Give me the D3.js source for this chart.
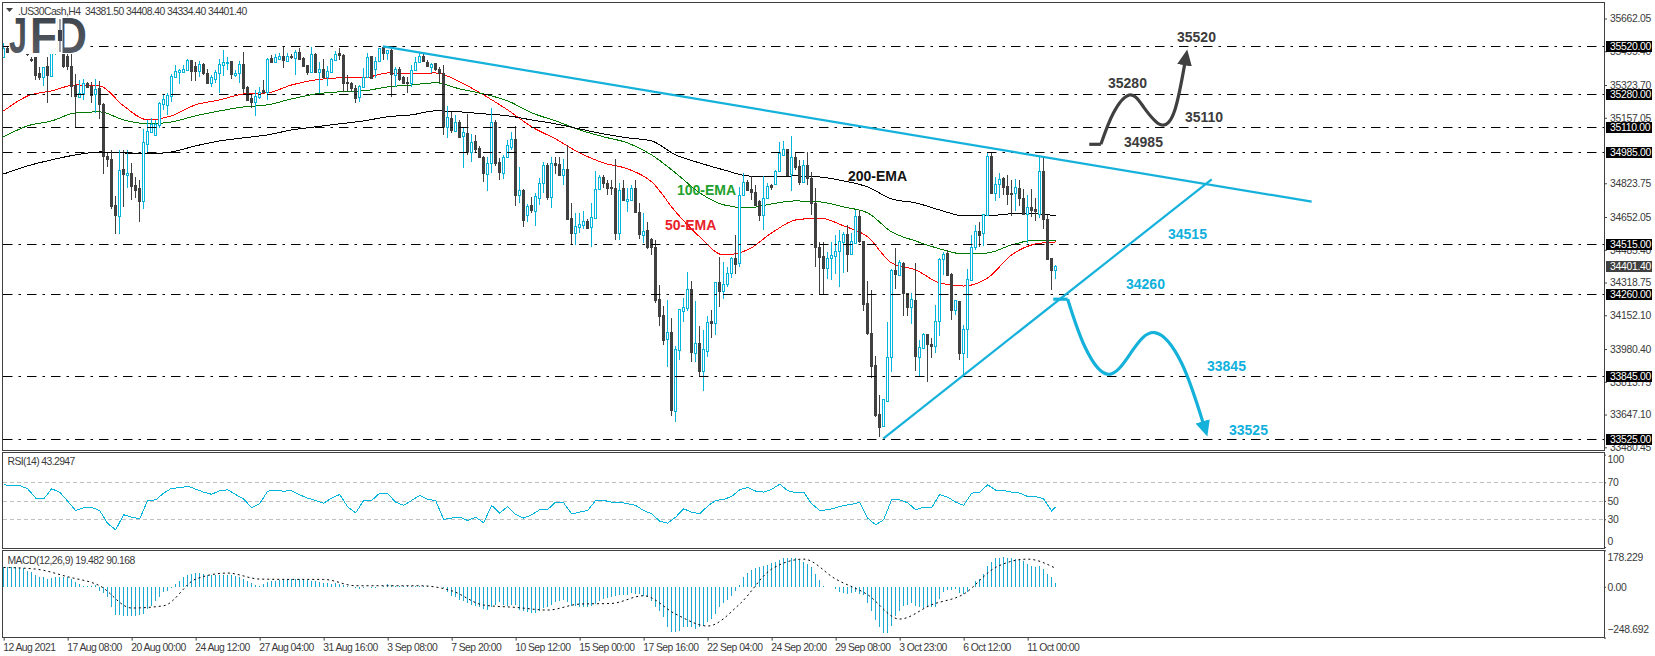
<!DOCTYPE html>
<html>
<head>
<meta charset="utf-8">
<script src="https://d3js.org/d3.v7.min.js"></script>
<style>
  body { margin: 0; background: #fff; }
  svg { display: block; }
  text { font-family: "Liberation Sans", sans-serif; }
  .small { font-size: 10.4px; fill: #3a3a3a; letter-spacing: -0.3px; white-space: pre; }
  .tick text { font-size: 10.4px; fill: #3a3a3a; letter-spacing: -0.3px; font-family: "Liberation Sans", sans-serif; }
  .dates .tick text { letter-spacing: -0.55px; }
  .tick line { stroke: #404040; }
  .note { font-size: 14px; font-weight: bold; dominant-baseline: middle; }
</style>
</head>
<body>
<svg id="chart" width="1655" height="656"></svg>
<script>
// candles, 16 bars a row (same spacing as the date ticks)
const opens = [
  35467,35513,35503,35533,35508,35518,35503,35457,35467,35385,35365,35421,35370,35487,35528,35503,
  35472,35421,35324,35263,35284,35335,35319,35278,35309,35228,34963,34948,34714,34658,34897,34866,
  34876,34815,34800,34734,35024,35085,35070,35121,35228,35223,35268,35365,35391,35391,35401,35452,
  35421,35396,35431,35385,35335,35355,35385,35426,35436,35447,35375,35385,35431,35314,35258,35238,
  35263,35299,35289,35462,35441,35457,35472,35447,35472,35462,35492,35462,35426,35391,35482,35391,
  35406,35365,35391,35452,35487,35477,35340,35335,35309,35263,35314,35365,35472,35406,35447,35518,
  35487,35503,35375,35406,35365,35340,35335,35401,35441,35472,35441,35416,35436,35406,35385,35111,
  35156,35090,35136,35065,35080,34983,35039,35004,34958,34871,34927,35136,34932,34876,34958,35009,
  35049,34765,34790,34663,34714,34683,34749,34826,34917,34754,34927,34922,34866,34897,34647,34571,
  34602,34612,34632,34602,34647,34795,34856,34826,34805,34800,34571,34800,34734,34739,34800,34678,
  34561,34586,34540,34500,34235,34154,34031,34067,33665,33975,34174,34189,34286,33960,34011,33869,
  33970,34123,34113,34322,34276,34311,34367,34444,34418,34765,34831,34795,34780,34734,34663,34749,
  34815,34820,34887,34968,34999,34871,34958,34912,34831,34917,34851,34724,34500,34454,34393,34444,
  34454,34479,34525,34566,34464,34520,34658,34530,34215,34062,33899,33650,33589,33716,33940,34383,
  34357,34418,34266,34194,34230,33940,33986,34057,34006,33996,34123,34439,34469,34362,34179,34225,
  33960,34082,34332,34500,34581,34571,34663,34963,34775,34820,34851,34810,34775,34775,34800,34749,
  34668,34703,34693,34668,34887,34642,34444,34381.5
];
const highs = [
  35538,35523,35548,35553,35538,35533,35513,35467,35467,35416,35416,35467,35497,35533,35543,35533,
  35492,35482,35380,35350,35355,35340,35340,35355,35345,35233,34983,34993,34759,34993,34993,34993,
  34927,34856,34841,35100,35146,35156,35146,35238,35273,35284,35380,35426,35406,35426,35457,35452,
  35441,35447,35436,35406,35375,35401,35457,35503,35467,35447,35401,35447,35492,35319,35273,35299,
  35314,35350,35462,35477,35482,35487,35518,35487,35482,35503,35513,35467,35426,35518,35487,35441,
  35457,35421,35462,35497,35513,35482,35375,35340,35324,35324,35411,35487,35472,35467,35513,35518,
  35503,35508,35416,35416,35370,35365,35426,35467,35487,35487,35452,35436,35436,35416,35426,35217,
  35187,35172,35146,35111,35177,35075,35070,35014,34963,34958,35207,35146,34953,34968,35044,35085,
  35116,34907,34795,34719,34754,34775,34851,34932,34927,34958,34958,34958,34948,35019,34724,34673,
  34673,34683,34642,34724,34887,34866,34866,34841,34841,34948,34826,34841,34800,34815,34841,34724,
  34673,34627,34546,34535,34306,34199,34230,34138,33996,34184,34240,34372,34327,34225,34098,34077,
  34149,34179,34322,34449,34423,34398,34449,34561,34805,34876,34841,34861,34815,34739,34861,34826,
  34820,34892,35034,35039,34999,35065,34983,34943,34943,34983,34882,34800,34525,34525,34474,34525,
  34561,34586,34576,34612,34571,34688,34688,34530,34327,34281,33945,33746,33726,34118,34388,34495,
  34433,34423,34266,34266,34418,34026,34062,34057,34036,34205,34444,34474,34485,34367,34230,34225,
  34103,34388,34561,34612,34627,34668,34983,34983,34856,34876,34856,34866,34841,34846,34841,34795,
  34764,34795,34749,34958,34958,34663,34444,34408.4
];
const lows = [
  35462,35487,35492,35497,35503,35492,35472,35441,35350,35350,35319,35233,35365,35477,35492,35411,
  35401,35263,35111,35258,35248,35309,35233,35182,35151,34871,34907,34693,34566,34566,34703,34800,
  34739,34749,34627,34693,34978,35080,35070,35105,35197,35172,35238,35360,35329,35385,35396,35345,
  35345,35365,35375,35329,35314,35335,35284,35370,35401,35355,35365,35335,35284,35243,35207,35167,
  35253,35278,35248,35436,35436,35452,35411,35441,35457,35375,35452,35421,35375,35385,35391,35284,
  35355,35319,35385,35447,35452,35289,35289,35289,35233,35238,35314,35360,35355,35360,35441,35452,
  35452,35263,35314,35345,35335,35284,35314,35396,35436,35441,35416,35385,35396,35335,35070,35055,
  35080,35090,35055,34902,34968,34932,34983,34953,34831,34785,34876,34912,34841,34846,34953,34993,
  34708,34724,34602,34627,34673,34607,34714,34775,34739,34698,34871,34861,34815,34637,34510,34510,
  34571,34591,34591,34500,34642,34790,34800,34765,34765,34535,34535,34739,34678,34734,34673,34540,
  34520,34490,34459,34215,34098,34001,33889,33640,33609,33925,34118,34174,33914,33914,33838,33767,
  33940,34037,34052,34194,34235,34296,34342,34362,34398,34759,34785,34739,34708,34632,34586,34744,
  34790,34815,34882,34963,34866,34785,34892,34815,34826,34815,34663,34398,34255,34261,34337,34332,
  34362,34296,34367,34372,34459,34515,34520,34174,34052,33833,33635,33533,33589,33711,33864,34286,
  34352,34149,34149,34108,33869,33838,33981,33813,33935,33960,34047,34357,34352,34128,34154,33925,
  33848,33935,34327,34485,34500,34505,34658,34770,34734,34749,34765,34714,34658,34683,34708,34668,
  34520,34652,34632,34647,34591,34439,34281,34334.4
];
const closes = [
  35513,35492,35533,35503,35523,35497,35482,35452,35375,35365,35416,35375,35487,35523,35503,35421,
  35421,35319,35268,35284,35335,35314,35273,35304,35228,34963,34948,34708,34663,34892,34871,34876,
  34810,34790,34734,35034,35090,35126,35126,35233,35253,35273,35370,35396,35401,35406,35452,35396,
  35396,35431,35385,35335,35365,35391,35431,35441,35441,35380,35385,35431,35309,35248,35238,35268,
  35289,35289,35457,35441,35467,35472,35452,35472,35467,35492,35457,35421,35391,35482,35391,35406,
  35365,35396,35457,35482,35477,35335,35335,35309,35258,35319,35365,35467,35360,35447,35513,35487,
  35503,35380,35406,35355,35335,35335,35401,35441,35472,35447,35421,35431,35406,35385,35116,35162,
  35095,35136,35060,35085,34988,35034,34999,34958,34876,34927,35136,34927,34882,34958,35019,35049,
  34765,34790,34637,34708,34688,34759,34826,34917,34754,34927,34917,34866,34897,34642,34571,34607,
  34617,34632,34596,34652,34795,34856,34826,34800,34800,34571,34790,34739,34744,34800,34678,34566,
  34581,34500,34500,34230,34149,34026,34067,33670,33981,34184,34194,34286,33965,34011,33869,33981,
  34118,34113,34322,34276,34311,34367,34444,34413,34765,34831,34790,34780,34714,34663,34749,34810,
  34805,34887,34978,34999,34866,34958,34907,34831,34917,34851,34724,34500,34449,34393,34444,34459,
  34479,34530,34566,34464,34530,34658,34530,34210,34062,33894,33645,33584,33726,33940,34383,34362,
  34423,34266,34194,34235,33945,33991,34057,34006,33996,34123,34439,34464,34357,34179,34230,33960,
  34082,34337,34500,34581,34561,34668,34963,34775,34820,34846,34805,34770,34770,34805,34749,34668,
  34703,34688,34683,34887,34642,34439,34383,34401.4
];

// moving averages, read every 6 bars
const emaBars = [0,6,12,18,24,30,36,42,48,54,60,66,72,78,84,90,96,102,108,114,120,126,132,138,144,150,156,162,168,174,180,186,192,198,204,210,216,222,228,234,240,246,252,258,263];
const ema50 = [35192,35268,35294,35324,35319,35217,35146,35167,35223,35248,35278,35284,35324,35350,35360,35360,35385,35380,35385,35340,35273,35197,35111,35049,34978,34927,34897,34831,34678,34551,34459,34485,34571,34637,34647,34607,34551,34418,34383,34317,34301,34342,34459,34515,34525];
const ema100 = [35060,35116,35141,35182,35187,35146,35126,35136,35167,35192,35212,35223,35253,35278,35289,35294,35314,35324,35335,35304,35278,35243,35182,35141,35095,35060,35029,34968,34876,34775,34714,34698,34719,34734,34729,34703,34673,34576,34530,34490,34464,34469,34510,34535,34535];
const ema200 = [34871,34912,34943,34968,34983,34978,34973,34983,35014,35039,35055,35070,35095,35111,35126,35141,35162,35172,35192,35187,35177,35167,35146,35126,35100,35075,35055,35039,34968,34927,34892,34861,34856,34861,34856,34836,34805,34744,34724,34688,34658,34658,34668,34668,34658];

// RSI, read every 2 bars (last point is the final bar)
const rsiValues = [
  67.3,66.6,66.6,63,53,52,63,59.4,49.6,39.5,42.4,42.8,39.5,25.5,18.6,34.9,32.3,30.5,50.4,51,58.3,63.7,64,65.9,62.6,59.4,57,61,61.9,56.8,52,42.4,
  46.8,60.5,61,60.5,60.8,56.5,52.9,50.4,47.5,53,56.8,43.5,37,50.4,50.4,58.3,57.6,48.6,45,50.4,55.8,51.4,50.4,29.8,31.3,32.3,28.7,32.3,26.2,45,36.7,43.9,35.2,
  31.3,34.9,40.3,40.6,48.6,47.8,35.9,37.7,39.5,50.4,50.4,48.6,48.6,46.8,45,39.5,35.9,28,25.9,32.3,41.4,37.7,35.9,44.2,50.4,51.4,54.7,61.9,64.4,60.5,59.4,62.3,68,
  61,58.6,59.4,46.8,39.5,40.3,42.4,45,46,48.6,31.3,24,29.5,51.4,51,47.8,40.3,43.2,42.4,56.8,54,48.6,45,58.3,59.4,67.3,61.5,61,59.4,58.3,54.7,54.7,52,39,43.2947
];
const rsiLevels = [30, 50, 70];

const macdHist = [
  95,95,95,95,91,90,78,70,59,49,46,37,41,49,49,49,
  46,37,21,13,5,5,5,10,-20,-33,-52,-101,-137,-139,-142,-142,
  -142,-142,-139,-134,-109,-93,-68,-52,-28,-20,-7,13,29,46,59,62,
  67,67,62,59,59,59,59,59,59,57,52,46,37,29,18,10,
  5,13,21,26,29,33,34,37,37,37,37,34,33,29,26,21,
  18,16,13,16,13,10,5,0,-7,-11,-7,-3,-7,-7,0,5,
  13,8,5,5,2,2,2,3,3,2,2,0,-2,-3,-7,-28,
  -44,-52,-65,-72,-81,-90,-93,-101,-109,-114,-101,-88,-77,-88,-96,-88,
  -88,-114,-121,-122,-129,-126,-117,-104,-101,-88,-77,-68,-64,-77,-93,-93,
  -101,-98,-98,-93,-85,-68,-60,-55,-49,-44,-39,-39,-39,-33,-36,-36,
  -44,-52,-68,-98,-117,-147,-199,-223,-223,-215,-199,-199,-199,-207,-199,-191,
  -174,-158,-134,-101,-81,-64,-44,-23,10,46,68,82,91,95,103,108,
  114,122,130,140,140,140,139,130,122,111,98,62,33,5,0,-3,
  -11,-28,-33,-36,-33,-28,-36,-39,-81,-117,-161,-199,-225,-225,-191,-142,
  -117,-93,-88,-81,-93,-101,-104,-101,-98,-98,-60,-28,-16,-16,-11,-33,
  -36,-28,0,26,37,62,103,119,140,143,147,143,140,135,135,124,
  111,103,98,103,86,62,46,19.482
];
// signal line, read every 8 bars
const signalBars = [0,8,16,24,32,40,48,56,64,72,80,88,96,104,112,120,128,136,144,152,160,168,176,184,192,200,208,216,224,232,240,248,256,263];
const signalValues = [94.5,86.4,48.9,4.9,-104,-93,37.5,66.8,37.5,35.9,35.9,4.9,4.9,4.9,-19.6,-89.7,-101,-114,-84.8,-81.5,-44,-133.7,-192,-84.8,86.4,135,37.5,-39,-158,-88,-36,94.5,135,90.168];

// horizontal levels and axis labels
const levels = [35520, 35280, 35110, 34985, 34515, 34260, 33845, 33525];
const priceTicks = [35662.05,35495.40,35323.70,35157.05,34823.75,34652.05,34485.40,34318.75,34152.10,33980.40,33813.75,33647.10,33480.45];
const lastPrice = 34401.40;
const dateBars = [0,16,32,48,64,80,96,112,128,144,160,176,192,208,224,240,256];
const dateLabels = ["12 Aug 2021","17 Aug 08:00","20 Aug 00:00","24 Aug 12:00","27 Aug 04:00","31 Aug 16:00","3 Sep 08:00","7 Sep 20:00","10 Sep 12:00","15 Sep 00:00","17 Sep 16:00","22 Sep 04:00","24 Sep 20:00","29 Sep 08:00","3 Oct 23:00","6 Oct 12:00","11 Oct 00:00"];

// trend lines: [bar, price]
const fallingLine = [[94.8, 35520], [327, 34730]];
const risingLine = [[219.9, 33525], [302, 34844]];

// scenario paths: [bar, price]
const upFlat = [[271.4, 35022], [274.3, 35022]];
const upPath = [[274.3, 35022], [277.4, 35180], [281.4, 35273], [284.9, 35214], [289.3, 35121], [292.8, 35197], [295.3, 35435]];
const downFlat = [[262.4, 34234], [266, 34234]];
const downPath = [[266, 34234], [270.3, 33992], [276.2, 33852], [282, 33967], [287.8, 34064], [294.5, 33908], [299.9, 33602]];

const CYAN = "#00b4dc";
const LINE_CYAN = "#14b1da";
const DARK = "#404040";

const svg = d3.select("#chart");
const x = d3.scaleLinear().domain([0, 263]).range([3.67, 1055.67]);
const y = d3.scaleLinear().domain([33480.45, 35662.05]).range([447.3, 18.5]);
const rsiY = d3.scaleLinear().domain([0, 100]).range([547, 454.6]);
const macdY = d3.scaleLinear().domain([-248.692, 178.229]).range([637.6, 550.3]);

const px = i => Math.floor(x(i)) + 0.5;

// moving averages go under the candles
const emaLine = d3.line().x((d, i) => x(emaBars[i])).y(d => y(d)).curve(d3.curveMonotoneX);
[[ema50, "#ff0000"], [ema100, "#007a00"], [ema200, "#000000"]].forEach(([values, color]) => {
  svg.append("path").attr("d", emaLine(values)).attr("fill", "none").attr("stroke", color)
    .attr("stroke-width", 1).attr("shape-rendering", "crispEdges");
});

// candles
const candles = svg.append("g").attr("shape-rendering", "crispEdges");
opens.forEach((open, i) => {
  const close = closes[i];
  const up = close >= open;
  const color = up ? CYAN : DARK;
  candles.append("line")
    .attr("x1", px(i)).attr("x2", px(i))
    .attr("y1", Math.round(y(highs[i]))).attr("y2", Math.round(y(lows[i])))
    .attr("stroke", color);
  const top = Math.round(y(Math.max(open, close)));
  const bottom = Math.max(Math.round(y(Math.min(open, close))), top + 1);
  if (up) {
    candles.append("rect")
      .attr("x", px(i) - 1).attr("width", 2)
      .attr("y", top + 0.5).attr("height", bottom - top)
      .attr("fill", "#fff").attr("stroke", color);
  } else {
    candles.append("rect")
      .attr("x", px(i) - 1.5).attr("width", 3)
      .attr("y", top).attr("height", bottom - top + 1)
      .attr("fill", color);
  }
});

// price levels
levels.forEach(level => {
  svg.append("line")
    .attr("x1", 3).attr("x2", 1604)
    .attr("y1", Math.round(y(level)) + 0.5).attr("y2", Math.round(y(level)) + 0.5)
    .attr("stroke", "#000").attr("stroke-width", 1.2)
    .attr("stroke-dasharray", "9.5 6 2.5 6");
});

// trend lines
const xyLine = d3.line().x(d => x(d[0])).y(d => y(d[1]));
[fallingLine, risingLine].forEach(points => {
  svg.append("path").attr("d", xyLine(points)).attr("fill", "none").attr("stroke", LINE_CYAN).attr("stroke-width", 2.2);
});

// scenario arrows
const defs = svg.append("defs");
[["headDark", DARK], ["headCyan", LINE_CYAN]].forEach(([id, color]) => {
  defs.append("marker")
    .attr("id", id).attr("markerUnits", "userSpaceOnUse")
    .attr("viewBox", "0 0 16 16").attr("refX", 2).attr("refY", 8)
    .attr("markerWidth", 17).attr("markerHeight", 17).attr("orient", "auto")
    .append("path").attr("d", "M0,1 L15,8 L0,15 Z").attr("fill", color);
});
const curveLine = d3.line().x(d => x(d[0])).y(d => y(d[1])).curve(d3.curveNatural);
[[upFlat, upPath, DARK, "headDark"], [downFlat, downPath, LINE_CYAN, "headCyan"]].forEach(([flat, path, color, head]) => {
  svg.append("path").attr("d", xyLine(flat)).attr("stroke", color).attr("stroke-width", 3.2).attr("fill", "none");
  svg.append("path").attr("d", curveLine(path)).attr("stroke", color).attr("stroke-width", 3.2).attr("fill", "none")
    .attr("marker-end", `url(#${head})`);
});

// labels on the chart
const notes = [
  ["35520", 1177, 38, "#3c3c3c"], ["35280", 1108, 84.5, "#3c3c3c"], ["35110", 1185, 118, "#3c3c3c"], ["34985", 1124, 143, "#3c3c3c"],
  ["34515", 1168, 235, "#0fb0dc"], ["34260", 1126, 285, "#0fb0dc"], ["33845", 1207, 367, "#0fb0dc"], ["33525", 1229, 431, "#0fb0dc"],
  ["200-EMA", 848, 177, "#111"], ["100-EMA", 677, 191, "#22a02c"], ["50-EMA", 665, 226, "#e8202a"]
];
notes.forEach(([label, nx, ny, color]) => {
  svg.append("text").attr("class", "note").attr("x", nx).attr("y", ny).attr("fill", color).text(label);
});

// RSI pane
rsiLevels.forEach(level => {
  svg.append("line")
    .attr("x1", 3).attr("x2", 1604)
    .attr("y1", Math.round(rsiY(level)) + 0.5).attr("y2", Math.round(rsiY(level)) + 0.5)
    .attr("stroke", "#c0c0c0").attr("stroke-dasharray", "4 3");
});
const rsiBar = i => (i < rsiValues.length - 1 ? i * 2 : 263);
svg.append("path")
  .attr("d", d3.line().x((d, i) => x(rsiBar(i))).y(d => rsiY(d))(rsiValues))
  .attr("fill", "none").attr("stroke", CYAN).attr("stroke-width", 1).attr("shape-rendering", "crispEdges");

// MACD pane
const hist = svg.append("g").attr("shape-rendering", "crispEdges");
macdHist.forEach((value, i) => {
  hist.append("rect")
    .attr("x", Math.floor(x(i))).attr("width", 1)
    .attr("y", Math.min(macdY(value), macdY(0)))
    .attr("height", Math.abs(macdY(value) - macdY(0)))
    .attr("fill", "#1aa9d2");
});
svg.append("path")
  .attr("d", d3.line().x((d, i) => x(signalBars[i])).y(d => macdY(d)).curve(d3.curveMonotoneX)(signalValues))
  .attr("fill", "none").attr("stroke", "#000").attr("stroke-width", 1).attr("stroke-dasharray", "2 3");

// logo sits on top of the first candles
const gradient = defs.append("linearGradient").attr("id", "logoFill").attr("x1", 0).attr("x2", 0).attr("y1", 0).attr("y2", 1);
gradient.append("stop").attr("offset", 0).attr("stop-color", "#3a4049");
gradient.append("stop").attr("offset", 1).attr("stop-color", "#5c6168");
svg.append("rect").attr("x", 9).attr("y", 16).attr("width", 78).attr("height", 38).attr("fill", "#fff");
[["J", 9, 18], ["F", 30, 27], ["D", 55, 32]].forEach(([letter, lx, w]) => {
  svg.append("text")
    .attr("x", lx).attr("y", 53).attr("font-size", 50).attr("font-weight", "bold")
    .attr("textLength", w).attr("lengthAdjust", "spacingAndGlyphs")
    .attr("fill", "url(#logoFill)").text(letter);
});
svg.append("rect").attr("x", 57.5).attr("y", 16).attr("width", 5).attr("height", 38).attr("fill", "#fff");
svg.append("rect").attr("x", 59.5).attr("y", 19).attr("width", 1).attr("height", 33).attr("fill", "#3a4049");
svg.append("rect").attr("x", 58).attr("y", 30).attr("width", 4).attr("height", 11).attr("fill", "#3a4049");

// frame
const frame = svg.append("g").attr("shape-rendering", "crispEdges").attr("stroke", DARK).attr("fill", "none");
frame.append("rect").attr("x", 2.5).attr("y", 2.5).attr("width", 1602).attr("height", 448);
frame.append("rect").attr("x", 2.5).attr("y", 452.5).attr("width", 1602).attr("height", 96);
frame.append("rect").attr("x", 2.5).attr("y", 550.5).attr("width", 1602).attr("height", 87);

// axes
const priceAxis = svg.append("g").attr("transform", "translate(1604,0)")
  .call(d3.axisRight(y).tickValues(priceTicks).tickFormat(d => d.toFixed(2)).tickSize(3).tickPadding(3));
priceAxis.select(".domain").remove();

const rsiAxis = svg.append("g").attr("transform", "translate(1604,0)")
  .call(d3.axisRight(rsiY).tickValues([100, 70, 50, 30, 0]).tickSize(2).tickPadding(1.5));
rsiAxis.select(".domain").remove();
rsiAxis.selectAll("text").attr("dy", d => (d === 100 ? 8 : d === 0 ? -2.5 : "0.32em"));

const macdAxis = svg.append("g").attr("transform", "translate(1604,0)")
  .call(d3.axisRight(macdY).tickValues([178.229, 0, -248.692]).tickFormat(d => (d === 0 ? "0.00" : d3.format(".3f")(d))).tickSize(2).tickPadding(1.5));
macdAxis.select(".domain").remove();
macdAxis.selectAll("text").attr("dy", d => (d > 0 ? 10 : d < 0 ? -5 : "0.32em"));

const dateAxis = svg.append("g").attr("class", "dates").attr("transform", "translate(0,637.6)")
  .call(d3.axisBottom(x).tickValues(dateBars).tickFormat((d, i) => dateLabels[i]).tickSize(3).tickPadding(3));
dateAxis.select(".domain").remove();
dateAxis.selectAll("text").attr("text-anchor", "start").attr("dx", -1);

// price badges over the axis labels
const badge = (price, color) => {
  svg.append("rect")
    .attr("x", 1606).attr("width", 46).attr("y", Math.round(y(price)) - 5.5).attr("height", 11)
    .attr("fill", color).attr("shape-rendering", "crispEdges");
  svg.append("text").attr("class", "small").attr("x", 1610).attr("y", Math.round(y(price)) + 4)
    .attr("style", "fill:#fff").text(price.toFixed(2));
};
levels.forEach(level => badge(level, "#000"));
badge(lastPrice, DARK);

// pane titles
svg.append("path").attr("d", "M6,8 L13,8 L9.5,12 Z").attr("fill", "#404040");
svg.append("text").attr("class", "small").attr("x", 18).attr("y", 14.5).attr("textLength", 229)
  .text(".US30Cash,H4  34381.50 34408.40 34334.40 34401.40");
svg.append("text").attr("class", "small").attr("x", 7.5).attr("y", 465).attr("textLength", 67.5).text("RSI(14) 43.2947");
svg.append("text").attr("class", "small").attr("x", 7.5).attr("y", 563.5).attr("textLength", 127.5).text("MACD(12,26,9) 19.482 90.168");
</script>
</body>
</html>
